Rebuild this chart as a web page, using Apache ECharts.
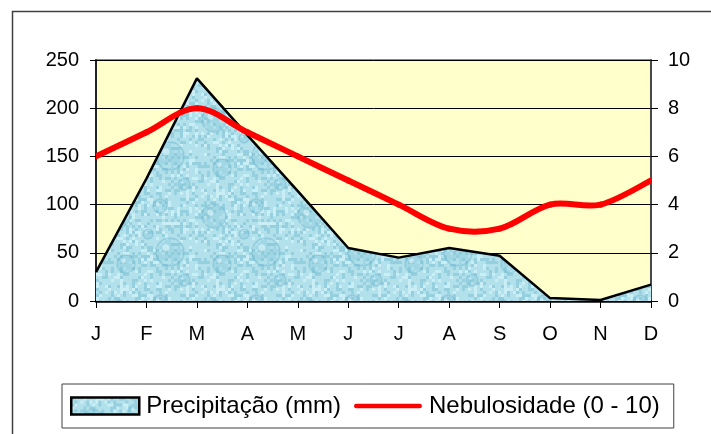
<!DOCTYPE html>
<html>
<head>
<meta charset="utf-8">
<script src="https://cdn.jsdelivr.net/npm/echarts@6/dist/echarts.min.js"></script>
<style>
  html, body { margin: 0; padding: 0; background: #ffffff; }
  #chart { width: 711px; height: 434px; }
</style>
</head>
<body>
<div id="chart"></div>
<script>
// Monthly climate data
const months = ['J', 'F', 'M', 'A', 'M', 'J', 'J', 'A', 'S', 'O', 'N', 'D'];
const precipitation = [30, 127, 231, 172, 114, 55, 45, 55, 47, 3, 1, 17];   // mm
const cloudiness = [6, 7, 8, 7, 6, 5, 4, 3, 3, 4, 4, 5];                   // 0 - 10
const precipTicks = { min: 0, max: 250, interval: 50 };
const cloudTicks = { min: 0, max: 10, interval: 2 };
const precipName = 'Precipitação (mm)';
const cloudName = 'Nebulosidade (0 - 10)';

// Water-drop texture used to fill the precipitation area
function makeDropTexture() {
  const size = 96;
  const c = document.createElement('canvas');
  c.width = size; c.height = size;
  const g = c.getContext('2d');
  g.fillStyle = '#b2e1eb';
  g.fillRect(0, 0, size, size);
  // mottled pixel blocks from a deterministic hash
  for (let y = 0; y < size; y += 3) {
    for (let x = 0; x < size; x += 3) {
      const h = Math.abs(Math.sin(x * 12.9898 + y * 78.233) * 43758.5453) % 1;
      if (h < 0.25) g.fillStyle = 'rgba(112,184,206,0.42)';
      else if (h > 0.8) g.fillStyle = 'rgba(215,245,250,0.65)';
      else continue;
      g.fillRect(x, y, 3, 3);
    }
  }
  // soft drops: faint darker rims with a pale highlight
  const drops = [[22, 24, 12], [64, 14, 7], [74, 60, 14], [30, 72, 9], [52, 42, 5], [88, 88, 6]];
  drops.forEach(([x, y, r]) => {
    g.beginPath();
    g.arc(x, y, r, 0, Math.PI * 2);
    g.fillStyle = 'rgba(130,198,218,0.35)';
    g.fill();
    g.lineWidth = 1.5;
    g.strokeStyle = 'rgba(100,175,200,0.35)';
    g.stroke();
    g.beginPath();
    g.arc(x - r * 0.3, y - r * 0.3, r * 0.25, 0, Math.PI * 2);
    g.fillStyle = 'rgba(230,250,254,0.55)';
    g.fill();
  });
  return c;
}
const dropTexture = makeDropTexture();
const dropFill = { image: dropTexture, repeat: 'repeat' };

// Smoothed curve segment between months i and i+1 (cardinal spline through neighbours)
function renderCloudSegment(params, api) {
  const i = params.dataIndex;
  if (i >= cloudiness.length - 1) return null;
  const pt = (j) => {
    const k = Math.max(0, Math.min(cloudiness.length - 1, j));
    return api.coord([k, cloudiness[k]]);
  };
  const p0 = pt(i - 1), p1 = pt(i), p2 = pt(i + 1), p3 = pt(i + 2);
  const t = 1 / 6;
  return {
    type: 'bezierCurve',
    shape: {
      x1: p1[0], y1: p1[1],
      cpx1: p1[0] + (p2[0] - p0[0]) * t, cpy1: p1[1] + (p2[1] - p0[1]) * t,
      cpx2: p2[0] - (p3[0] - p1[0]) * t, cpy2: p2[1] - (p3[1] - p1[1]) * t,
      x2: p2[0], y2: p2[1]
    },
    style: { fill: null, stroke: '#ff0000', lineWidth: 6, lineCap: 'round', lineJoin: 'round' }
  };
}

const font = 'Liberation Sans, Arial, sans-serif';
const chart = echarts.init(document.getElementById('chart'), null, { renderer: 'canvas' });

chart.setOption({
  backgroundColor: '#ffffff',
  animation: false,
  textStyle: { fontFamily: font, color: '#000' },
  graphic: [{
    type: 'rect',
    shape: { x: 12.5, y: 11.5, width: 760, height: 500 },
    style: { fill: 'none', stroke: '#404040', lineWidth: 1.5 },
    silent: true
  }],
  grid: {
    left: 96, right: 60, top: 60, bottom: 133,
    show: true,
    backgroundColor: '#ffffcc',
    borderColor: '#8a8a8a',
    borderWidth: 2
  },
  legend: {
    left: 62, top: 384,
    padding: [10, 14, 10, 8],
    itemWidth: 68, itemHeight: 17,
    itemGap: 13,
    borderColor: '#404040', borderWidth: 1,
    backgroundColor: '#ffffff',
    textStyle: { fontFamily: font, fontSize: 24, color: '#000', padding: [0, 0, 0, 2] },
    data: [
      { name: precipName, icon: 'rect', itemStyle: { color: dropFill, borderColor: '#000', borderWidth: 2.5 } },
      { name: cloudName, icon: 'path://M2.5,0 L70.5,0 A2.5,2.5 0 0 1 70.5,5 L2.5,5 A2.5,2.5 0 0 1 2.5,0 Z', itemStyle: { color: '#ff0000' } }
    ]
  },
  xAxis: {
    type: 'category',
    data: months,
    boundaryGap: false,
    axisLine: { show: true, lineStyle: { color: '#000', width: 2.5 } },
    axisTick: { show: true, alignWithLabel: true, length: 7, lineStyle: { color: '#000', width: 1 } },
    axisLabel: { fontFamily: font, fontSize: 20, color: '#000', margin: 23 },
    splitLine: { show: false }
  },
  yAxis: [
    {
      type: 'value',
      min: precipTicks.min, max: precipTicks.max, interval: precipTicks.interval,
      axisLine: { show: true, lineStyle: { color: '#000', width: 1.5 } },
      axisTick: { show: true, length: 6, lineStyle: { color: '#000' } },
      axisLabel: { fontFamily: font, fontSize: 20, color: '#000', margin: 17 },
      splitLine: { show: true, lineStyle: { color: '#000', width: 1 } }
    },
    {
      type: 'value',
      position: 'right',
      min: cloudTicks.min, max: cloudTicks.max, interval: cloudTicks.interval,
      axisLine: { show: true, lineStyle: { color: '#333', width: 1.5 } },
      axisTick: { show: true, length: 7, lineStyle: { color: '#000' } },
      axisLabel: { fontFamily: font, fontSize: 20, color: '#000', margin: 17 },
      splitLine: { show: false }
    }
  ],
  series: [
    {
      name: precipName,
      type: 'line',
      yAxisIndex: 0,
      data: precipitation,
      symbol: 'none',
      lineStyle: { color: '#000', width: 2.5 },
      itemStyle: { color: dropFill, borderColor: '#000' },
      areaStyle: { color: dropFill, opacity: 1 },
      z: 2
    },
    {
      name: cloudName,
      type: 'custom',
      yAxisIndex: 1,
      data: cloudiness.map((v, i) => [i, v]),
      encode: { x: 0, y: 1 },
      renderItem: renderCloudSegment,
      itemStyle: { color: '#ff0000' },
      clip: true,
      z: 3
    }
  ]
});
</script>
</body>
</html>
